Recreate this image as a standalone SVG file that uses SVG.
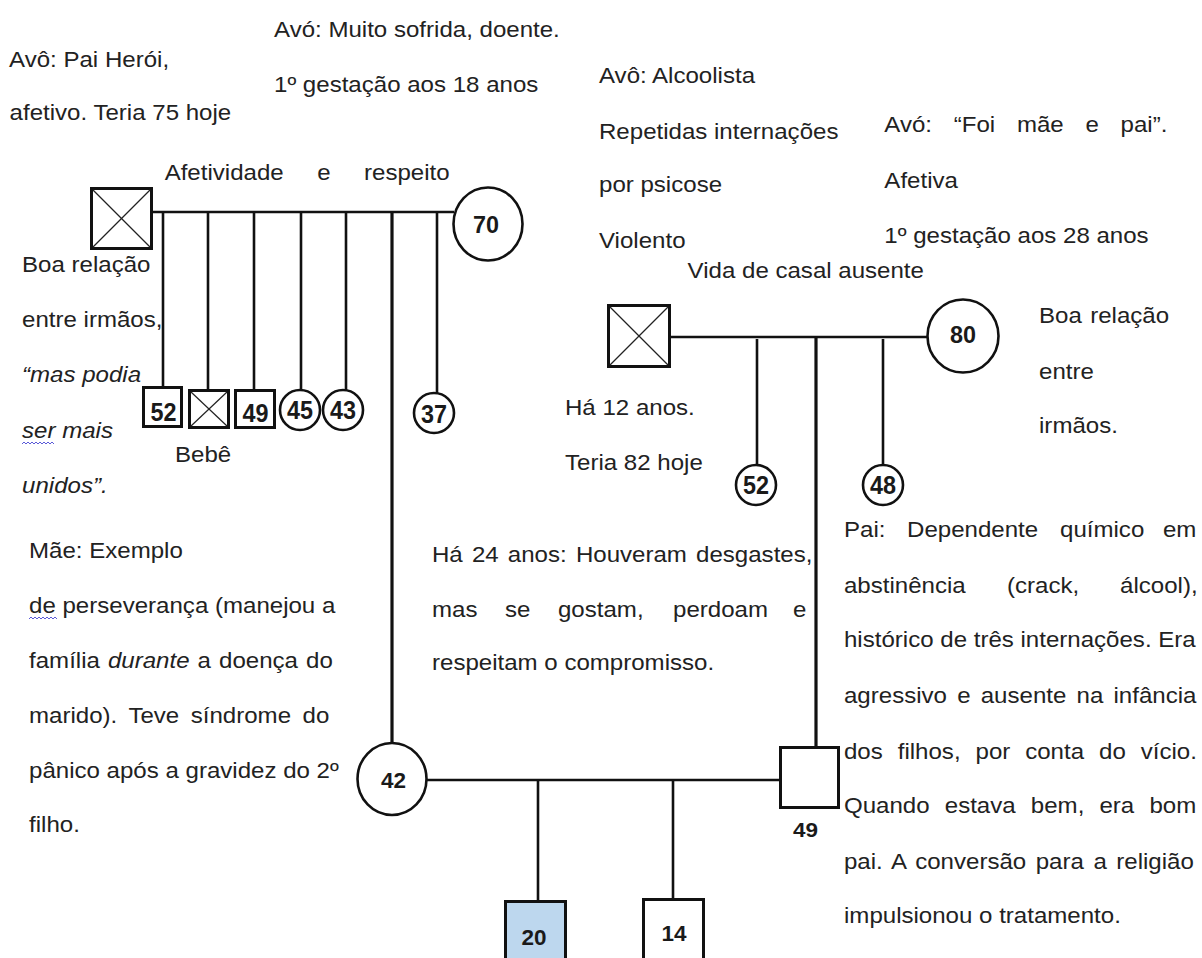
<svg xmlns="http://www.w3.org/2000/svg" width="1202" height="958" viewBox="0 0 1202 958">
<style>
.ln{stroke:#111;stroke-width:2.6;fill:none}
.lnb{stroke:#111;stroke-width:3.2;fill:none}
.box{stroke:#111;stroke-width:3;fill:#fff}
.circ{stroke:#111;stroke-width:2.6;fill:#fff}
.x{stroke:#222;stroke-width:1.2}
.num{font-family:"Liberation Sans",Arial,sans-serif;font-weight:bold;fill:#1a1a1a;text-anchor:middle}
.t{font-family:"Liberation Sans",Arial,sans-serif;fill:#222;font-size:21.3px}
.i{font-style:italic}
.wavy{stroke:#5a5ad8;stroke-width:1;fill:none}
</style>
<rect width="1202" height="958" fill="#fff"/>

<g id="connectors">
  <line class="ln" x1="152" y1="212" x2="454" y2="212"/>
  <line class="ln" x1="163" y1="212" x2="163" y2="387"/>
  <line class="ln" x1="208" y1="212" x2="208" y2="390"/>
  <line class="ln" x1="254" y1="212" x2="254" y2="390"/>
  <line class="ln" x1="301" y1="212" x2="301" y2="390"/>
  <line class="ln" x1="346" y1="212" x2="346" y2="390"/>
  <line class="lnb" x1="392" y1="212" x2="392" y2="743"/>
  <line class="ln" x1="437" y1="212" x2="437" y2="393"/>
  <line class="ln" x1="670" y1="337" x2="928" y2="337"/>
  <line class="ln" x1="757" y1="339" x2="757" y2="465"/>
  <line class="lnb" x1="816" y1="337" x2="816" y2="747"/>
  <line class="ln" x1="883" y1="339" x2="883" y2="465"/>
  <line class="ln" x1="427" y1="780" x2="780" y2="780"/>
  <line class="ln" x1="538" y1="780" x2="538" y2="901"/>
  <line class="ln" x1="673" y1="780" x2="673" y2="899"/>
</g>

<g id="avo-paterno">
  <rect class="box" x="91.5" y="188.5" width="60" height="60"/>
  <line class="x" x1="93" y1="190" x2="150" y2="247"/>
  <line class="x" x1="150" y1="190" x2="93" y2="247"/>
</g>
<g id="avo-paterna">
  <ellipse class="circ" cx="488" cy="224" rx="34.5" ry="36.5"/>
  <text class="num" x="486" y="233" font-size="24" textLength="26" lengthAdjust="spacingAndGlyphs">70</text>
</g>
<g id="tio-52">
  <rect class="box" x="143.5" y="387.5" width="38" height="39"/>
  <text class="num" x="163.5" y="421" font-size="25" textLength="26" lengthAdjust="spacingAndGlyphs">52</text>
</g>
<g id="bebe">
  <rect class="box" x="189.5" y="390.5" width="39" height="37"/>
  <line class="x" x1="191" y1="392" x2="227" y2="426"/>
  <line class="x" x1="227" y1="392" x2="191" y2="426"/>
</g>
<g id="tio-49">
  <rect class="box" x="235.5" y="390.5" width="39" height="37"/>
  <text class="num" x="255.5" y="422" font-size="25" textLength="26" lengthAdjust="spacingAndGlyphs">49</text>
</g>
<g id="tia-45">
  <circle class="circ" cx="300" cy="410" r="20"/>
  <text class="num" x="300" y="419" font-size="25" textLength="26" lengthAdjust="spacingAndGlyphs">45</text>
</g>
<g id="tia-43">
  <circle class="circ" cx="343" cy="410" r="20"/>
  <text class="num" x="343" y="419" font-size="25" textLength="26" lengthAdjust="spacingAndGlyphs">43</text>
</g>
<g id="tia-37">
  <circle class="circ" cx="434" cy="413" r="20"/>
  <text class="num" x="434" y="423" font-size="25" textLength="26" lengthAdjust="spacingAndGlyphs">37</text>
</g>

<g id="avo-materno">
  <rect class="box" x="608.5" y="305.5" width="61" height="61"/>
  <line class="x" x1="610" y1="307" x2="668" y2="365"/>
  <line class="x" x1="668" y1="307" x2="610" y2="365"/>
</g>
<g id="avo-materna">
  <ellipse class="circ" cx="963" cy="336" rx="35.5" ry="36.5"/>
  <text class="num" x="963" y="343" font-size="24" textLength="26" lengthAdjust="spacingAndGlyphs">80</text>
</g>
<g id="tio-52b">
  <circle class="circ" cx="756" cy="485" r="20"/>
  <text class="num" x="756" y="494" font-size="25" textLength="26" lengthAdjust="spacingAndGlyphs">52</text>
</g>
<g id="tio-48">
  <circle class="circ" cx="883" cy="485" r="20"/>
  <text class="num" x="883" y="494" font-size="25" textLength="26" lengthAdjust="spacingAndGlyphs">48</text>
</g>

<g id="mae-42">
  <ellipse class="circ" cx="392" cy="779" rx="34.5" ry="36"/>
  <text class="num" x="393.5" y="788" font-size="22" textLength="25" lengthAdjust="spacingAndGlyphs">42</text>
</g>
<g id="pai-49">
  <rect class="box" x="780.5" y="747.5" width="58" height="60"/>
  <text class="num" x="805.5" y="837" font-size="21" textLength="25" lengthAdjust="spacingAndGlyphs">49</text>
</g>
<g id="filho-20">
  <rect class="box" x="505.5" y="901.5" width="60" height="70" style="fill:#bdd7ee"/>
  <text class="num" x="534" y="945" font-size="22" textLength="25" lengthAdjust="spacingAndGlyphs">20</text>
</g>
<g id="filho-14">
  <rect class="box" x="643.5" y="899.5" width="60" height="70"/>
  <text class="num" x="674" y="941" font-size="22" textLength="25" lengthAdjust="spacingAndGlyphs">14</text>
</g>

<g id="annotations" class="t" transform="scale(1.13 1)">
  <text x="242.5" y="37">Avó: Muito sofrida, doente.</text>
  <text x="8" y="67">Avô: Pai Herói,</text>
  <text x="242.5" y="92">1º gestação aos 18 anos</text>
  <text x="8.5" y="120">afetivo. Teria 75 hoje</text>
  <text x="145.7" y="180" word-spacing="23.7">Afetividade e respeito</text>

  <text x="530.1" y="83">Avô: Alcoolista</text>
  <text x="530.1" y="139">Repetidas internações</text>
  <text x="530.1" y="192">por psicose</text>
  <text x="530.1" y="248">Violento</text>
  <text x="782.6" y="132" word-spacing="13.3">Avó: “Foi mãe e pai”.</text>
  <text x="782.6" y="188">Afetiva</text>
  <text x="782.6" y="243">1º gestação aos 28 anos</text>
  <text x="608.5" y="278">Vida de casal ausente</text>

  <text x="19.5" y="272">Boa relação</text>
  <text x="19.5" y="327">entre irmãos,</text>
  <text x="19.5" y="382" class="i">“mas podia</text>
  <text x="19.5" y="438" class="i">ser mais</text>
  <text x="19.5" y="493" class="i">unidos”.</text>
  <text x="154.9" y="462">Bebê</text>
  <text x="500" y="415">Há 12 anos.</text>
  <text x="500" y="470">Teria 82 hoje</text>
  <text x="919.5" y="323" word-spacing="1.5">Boa relação</text>
  <text x="919.5" y="379">entre</text>
  <text x="919.5" y="433">irmãos.</text>

  <text x="25.7" y="558">Mãe: Exemplo</text>
  <text x="25.7" y="613">de perseverança (manejou a</text>
  <text x="25.7" y="668" word-spacing="1.2">família <tspan class="i">durante</tspan> a doença do</text>
  <text x="25.7" y="723" word-spacing="4.3">marido). Teve síndrome do</text>
  <text x="25.7" y="778">pânico após a gravidez do 2º</text>
  <text x="25.7" y="832">filho.</text>

  <text x="382.3" y="562" word-spacing="2.2">Há 24 anos: Houveram desgastes,</text>
  <text y="617"><tspan x="382.3">mas</tspan><tspan x="446.9">se</tspan><tspan x="493.8">gostam,</tspan><tspan x="595.6">perdoam</tspan><tspan x="701.8">e</tspan></text>
  <text x="382.3" y="670">respeitam o compromisso.</text>

  <text y="537"><tspan x="746.9">Pai:</tspan><tspan x="802.7">Dependente</tspan><tspan x="938.1">químico</tspan><tspan x="1029.2">em</tspan></text>
  <text y="593"><tspan x="746.9">abstinência</tspan><tspan x="891.2">(crack,</tspan><tspan x="991.2">álcool),</tspan></text>
  <text x="746.9" y="647">histórico de três internações. Era</text>
  <text x="746.9" y="703" word-spacing="3.1">agressivo e ausente na infância</text>
  <text x="746.9" y="759" word-spacing="7.3">dos filhos, por conta do vício.</text>
  <text x="746.9" y="813" word-spacing="7.5">Quando estava bem, era bom</text>
  <text x="746.9" y="869" word-spacing="2.5">pai. A conversão para a religião</text>
  <text x="746.9" y="923">impulsionou o tratamento.</text>
</g>
<path class="wavy" d="M22 444 l2 -2 l2 2 l2 -2 l2 2 l2 -2 l2 2 l2 -2 l2 2 l2 -2 l2 2 l2 -2 l2 2 l2 -2 l2 2 l2 -2 l2 2"/>
<path class="wavy" d="M29 619 l2 -2 l2 2 l2 -2 l2 2 l2 -2 l2 2 l2 -2 l2 2 l2 -2 l2 2 l2 -2 l2 2 l2 -2 l2 2"/>
</svg>
